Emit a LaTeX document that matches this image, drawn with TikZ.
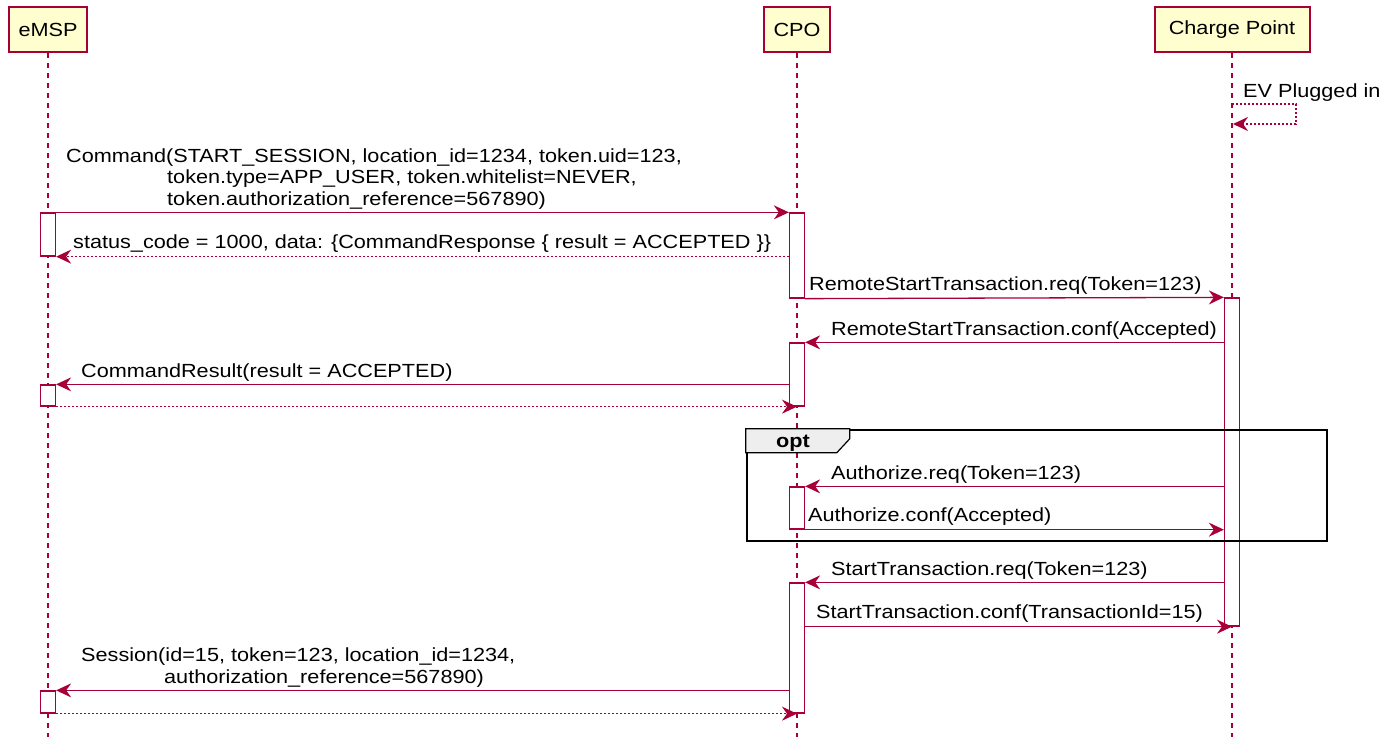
\documentclass[tikz,border=0pt]{standalone}
\usepackage{fontspec}
\setmainfont{Liberation Sans}[FakeStretch=1.14]
\usepackage{tikz}
\usetikzlibrary{arrows.meta,positioning}
\definecolor{umlred}{HTML}{A80036}
\definecolor{umlfill}{HTML}{FEFECE}
\definecolor{optgray}{HTML}{EEEEEE}

\begin{document}
\begin{tikzpicture}[x = 1pt, y = -1pt, font = \fontsize{19}{21.5}\selectfont,
  part/.style = {draw = umlred, fill = umlfill, line width = 2pt, minimum height = 45pt, inner sep = 0pt},
  act/.style = {draw = umlred, fill = white, line width = 1.3pt, minimum width = 15pt, inner sep = 0pt},
  life/.style = {umlred, line width = 1.2pt, dash pattern = on 5pt off 5pt},
  msg/.style = {umlred, line width = 1.3pt, -{Stealth[length = 15pt, width = 14pt, inset = 5pt]}},
  ret/.style = {msg, dash pattern = on 2pt off 2pt},
  lbl/.style = {anchor = base west, inner sep = 0pt, align = left}]
\useasboundingbox (0,0) rectangle (1391,737);
\coordinate (bot) at (0,737);
\node[part, minimum width = 78pt] (emsp) at (48,29.5) {eMSP};
\node[part, minimum width = 66pt] (cpo) at (797,29.5) {CPO};
\node[part, minimum width = 155pt] (cp) at (1232,29.5) {Charge Point};
\draw[life] (emsp.south) -- (emsp.south |- bot);
\draw[life] (cpo.south) -- (cpo.south |- bot);
\draw[life] (cp.south) -- (cp.south |- bot);

\coordinate (ev) at (1232,104);
\draw[ret] (ev) -- ++(64,0) -- ++(0,20) -- ++(-63,0);
\node[lbl] (evlbl) at (1243,97) {EV Plugged in};

\node[act, minimum height = 43pt] (e1) at (48,234.5) {};
\node[act, minimum height = 85pt] (c1) at (797,255.5) {};
\node[act, minimum height = 328pt] (p1) at (1232,462) {};
\node[act, minimum height = 63pt] (c2) at (797,374.5) {};
\node[act, minimum height = 21pt] (e2) at (48,395.5) {};
\node[act, minimum height = 42pt] (c3) at (797,508) {};
\node[act, minimum height = 130pt] (c4) at (797,648) {};
\node[act, minimum height = 22pt] (e3) at (48,702) {};

\draw[msg] (e1.north) -- (c1.north west);
\node[lbl] (cmdlbl) at (66,205) {Command(START\_SESSION, location\_id=1234, token.uid=123,\\
  \hspace*{101pt}token.type=APP\_USER, token.whitelist=NEVER,\\
  \hspace*{101pt}token.authorization\_reference=567890)};
\draw[ret] (c1.west |- e1.south) -- (e1.south east);
\node[lbl] (statlbl) at (73,248) {status\_code = 1000, data: \{CommandResponse \{ result = ACCEPTED \}\}};
\draw[msg] (c1.south east) -- (p1.north west);
\node[lbl] (rsreqlbl) at (809,290) {RemoteStartTransaction.req(Token=123)};
\draw[msg] (p1.west |- c2.north) -- (c2.north east);
\node[lbl] (rsconflbl) at (831,335) {RemoteStartTransaction.conf(Accepted)};
\draw[msg] (c2.west |- e2.north) -- (e2.north east);
\node[lbl] (reslbl) at (81,377) {CommandResult(result = ACCEPTED)};
\draw[ret] (e2.south east) -- (c2.south);

\draw[msg] (p1.west |- c3.north) -- (c3.north east);
\node[lbl] (aureqlbl) at (831,479) {Authorize.req(Token=123)};
\draw[msg] (c3.south east) -- (p1.west |- c3.south);
\node[lbl] (auconflbl) at (808,521) {Authorize.conf(Accepted)};
\node[draw, line width = 2.5pt, minimum width = 580pt, minimum height = 111pt, inner sep = 0pt] (optbox) at (1037,485.5) {};
\draw[fill = optgray, line width = 1.2pt] (optbox.north west) -- ++(104,0) -- ++(0,10) -- ++(-13,14) -- ++(-91,0) -- cycle;
\node[font = \fontsize{19}{21.5}\selectfont\bfseries, anchor = base] (optlbl) at (793,447) {opt};

\draw[msg] (p1.west |- c4.north) -- (c4.north east);
\node[lbl] (streqlbl) at (831,575) {StartTransaction.req(Token=123)};
\draw[msg] (c4.east |- p1.south) -- (p1.south);
\node[lbl] (stconflbl) at (816,618) {StartTransaction.conf(TransactionId=15)};
\draw[msg] (c4.west |- e3.north) -- (e3.north east);
\node[lbl] (seslbl) at (81,683) {Session(id=15, token=123, location\_id=1234,\\
  \hspace*{83pt}authorization\_reference=567890)};
\draw[ret] (e3.south east) -- (c4.south);
\end{tikzpicture}
\end{document}
